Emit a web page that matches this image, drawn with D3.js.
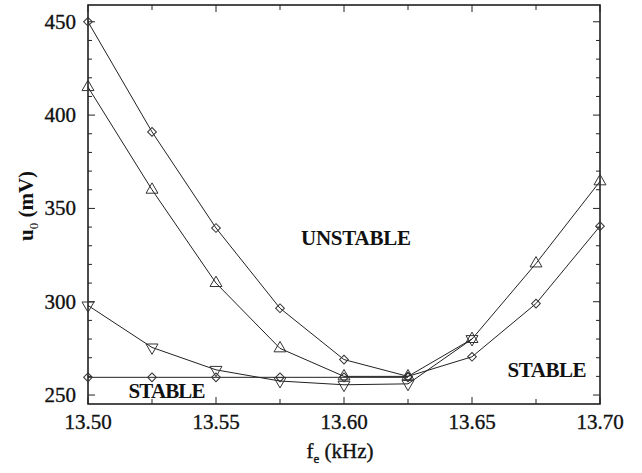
<!DOCTYPE html>
<html lang="en">
<head>
  <meta charset="UTF-8" />
  <title>u0 vs fe</title>
  <script src="https://d3js.org/d3.v7.min.js"></script>
  <style>
    body { margin: 0; background: white; font-family: "Liberation Serif", "DejaVu Serif", serif; }
    text { font-family: "Liberation Serif", "DejaVu Serif", serif; fill: #111; }
    .tickLabel { stroke: #111; stroke-width: 0.35; }
    .series { fill: none; stroke: #222; stroke-width: 1; }
    .marker { fill: none; stroke: #333; stroke-width: 1; }
    .label { font-size: 21px; }
  </style>
</head>
<body>
  <svg id="chart" width="642" height="473"></svg>
  <script>
    const freq = [13.50, 13.525, 13.55, 13.575, 13.60, 13.625, 13.65, 13.675, 13.70];

    // upper diamond series
    const diamondHigh = [450, 391, 339.5, 296.5, 269, 260, 270.5, 299, 340.5];
    const triUp = [415, 360, 310, 275, 260, 260, 280, 320.5, 364.5];
    const triDown = [298, 275.5, 263.5, 257.5, 255.5, 256, 280, null, null];
    // lower, flat diamond series
    const diamondFlat = [259.5, 259.5, 259.5, 259.5, 259.5, 259.5, null, null, null];

    const xTicks = [13.50, 13.55, 13.60, 13.65, 13.70];
    const yTicks = [250, 300, 350, 400, 450];

    const svg = d3.select("#chart");
    const mLeft = 88, mRight = 600, mTop = 5, mBottom = 404;

    const x = d3.scaleLinear().domain([13.50, 13.70]).range([mLeft, mRight]);
    const y = d3.scaleLinear().domain([245.2, 459]).range([mBottom, mTop]);

    // frame
    svg.append("rect")
      .attr("x", mLeft).attr("y", mTop)
      .attr("width", mRight - mLeft).attr("height", mBottom - mTop)
      .attr("fill", "none").attr("stroke", "#111").attr("stroke-width", 1.5);

    // ticks (inward, on all four sides)
    const xMinor = d3.range(13.50, 13.7001, 0.025);
    const yMinor = d3.range(250, 459, 10);
    const tick = svg.append("g").attr("stroke", "#222").attr("stroke-width", 1);
    xMinor.forEach(v => {
      const major = xTicks.some(t => Math.abs(t - v) < 1e-6);
      const len = major ? 7 : 5;
      tick.append("line").attr("x1", x(v)).attr("x2", x(v)).attr("y1", mBottom).attr("y2", mBottom - len);
      tick.append("line").attr("x1", x(v)).attr("x2", x(v)).attr("y1", mTop).attr("y2", mTop + len);
    });
    yMinor.forEach(v => {
      const major = yTicks.includes(v);
      const len = major ? 7 : 4;
      tick.append("line").attr("y1", y(v)).attr("y2", y(v)).attr("x1", mLeft).attr("x2", mLeft + len);
      tick.append("line").attr("y1", y(v)).attr("y2", y(v)).attr("x1", mRight).attr("x2", mRight - len);
    });

    // tick labels
    svg.append("g").selectAll("text")
      .data(xTicks).join("text")
      .attr("class", "tickLabel")
      .attr("x", d => x(d)).attr("y", 429)
      .attr("text-anchor", "middle")
      .attr("font-size", 21)
      .text(d => d.toFixed(2));

    svg.append("g").selectAll("text")
      .data(yTicks).join("text")
      .attr("class", "tickLabel")
      .attr("x", 76).attr("y", d => y(d) + 7)
      .attr("text-anchor", "end")
      .attr("font-size", 21)
      .text(d => d);

    // axis titles
    const xt = svg.append("text")
      .attr("class", "tickLabel")
      .attr("x", 340).attr("y", 458)
      .attr("text-anchor", "middle")
      .attr("font-size", 21);
    xt.append("tspan").text("f");
    xt.append("tspan").attr("font-size", 13).attr("dy", 5).text("e");
    xt.append("tspan").attr("dy", -5).text(" (kHz)");

    const yt = svg.append("text")
      .attr("transform", "translate(33,206) rotate(-90)")
      .attr("text-anchor", "middle")
      .attr("font-size", 21)
      .attr("font-weight", "bold");
    yt.append("tspan").text("u");
    yt.append("tspan").attr("font-size", 13).attr("dy", 5).attr("font-weight", "normal").text("0");
    yt.append("tspan").attr("dy", -5).text(" (mV)");

    // series
    const line = d3.line()
      .x(d => x(d[0])).y(d => y(d[1]));

    const series = [
      { values: diamondFlat, shape: "diamond", width: 1.6 },
      { values: triDown, shape: "down", width: 1 },
      { values: triUp, shape: "up", width: 1 },
      { values: diamondHigh, shape: "diamond", width: 1 }
    ];

    series.forEach(s => {
      const pts = freq.map((f, i) => [f, s.values[i]]).filter(d => d[1] != null);
      svg.append("path")
        .attr("class", "series")
        .attr("stroke-width", s.width)
        .attr("d", line(pts));

      const sym = s.shape === "diamond" ? d3.symbolSquare : d3.symbolTriangle;
      const size = s.shape === "diamond" ? 38 : 62;
      const rot = s.shape === "diamond" ? 45 : (s.shape === "down" ? 180 : 0);
      svg.append("g").selectAll("path")
        .data(pts).join("path")
        .attr("class", "marker")
        .attr("transform", d => `translate(${x(d[0])},${y(d[1])}) rotate(${rot})`)
        .attr("d", d3.symbol().type(sym).size(size));
    });

    // region labels
    svg.append("text").attr("class", "label")
      .attr("x", 356).attr("y", 245).attr("text-anchor", "middle")
      .attr("font-weight", "bold").attr("textLength", 110)
      .text("UNSTABLE");
    svg.append("text").attr("class", "label")
      .attr("x", 167).attr("y", 398).attr("text-anchor", "middle")
      .attr("font-weight", "bold").attr("textLength", 77)
      .text("STABLE");
    svg.append("text").attr("class", "label")
      .attr("x", 547).attr("y", 377).attr("text-anchor", "middle")
      .attr("font-weight", "bold").attr("textLength", 79)
      .text("STABLE");
  </script>
</body>
</html>
